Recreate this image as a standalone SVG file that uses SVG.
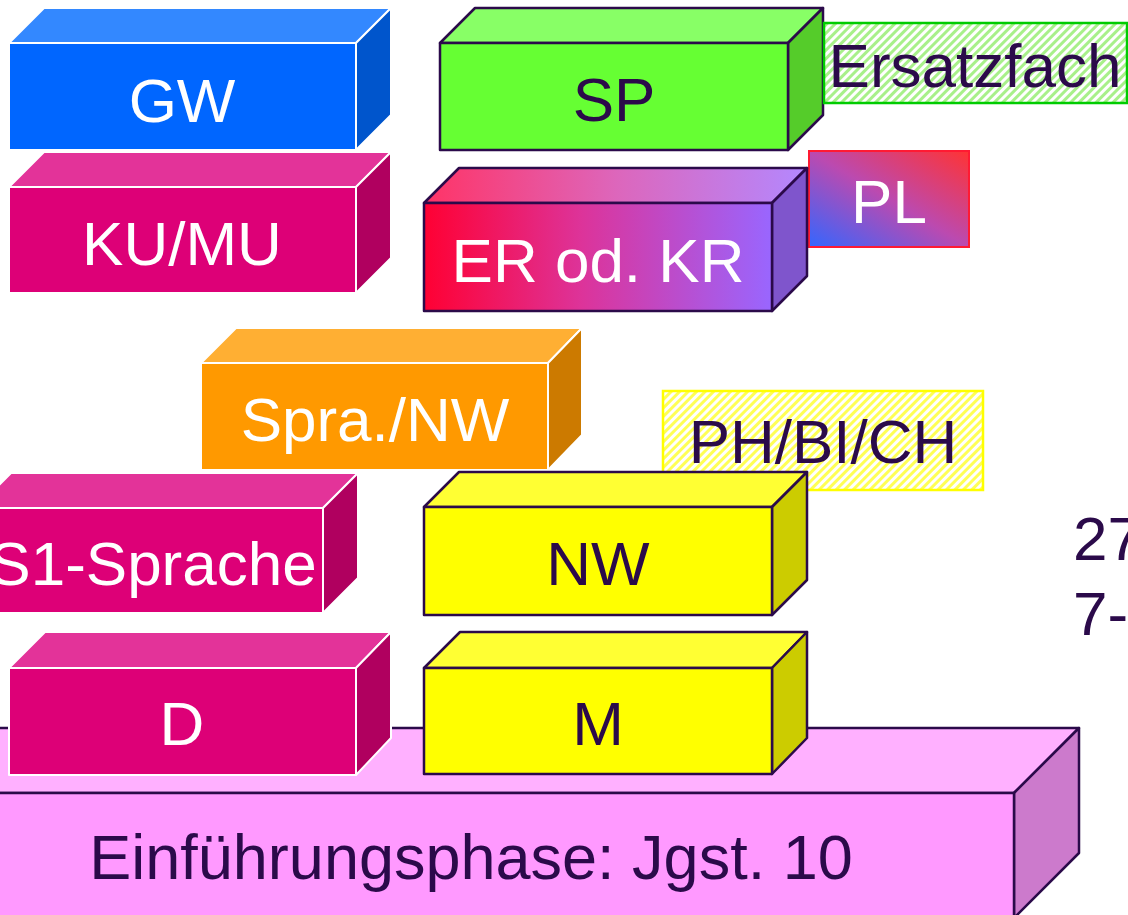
<svg xmlns="http://www.w3.org/2000/svg" width="1128" height="915" viewBox="0 0 1128 915">
<defs>
<style>
text{font-family:"Liberation Sans",Arial,sans-serif;font-size:62px;text-anchor:middle}
.w{fill:#ffffff}
.k{fill:#2b0a4a}
.ws{stroke:#ffffff;stroke-width:2;stroke-linejoin:round}
.ds{stroke:#2b0a4a;stroke-width:2.5;stroke-linejoin:round}
</style>
<linearGradient id="erF" x1="0" y1="0" x2="1" y2="0"><stop offset="0" stop-color="#ff0033"/><stop offset="0.45" stop-color="#dd3399"/><stop offset="1" stop-color="#9966ff"/></linearGradient>
<linearGradient id="erT" x1="0" y1="0" x2="1" y2="0"><stop offset="0" stop-color="#ff3366"/><stop offset="0.5" stop-color="#dd66bb"/><stop offset="1" stop-color="#b388ff"/></linearGradient>
<linearGradient id="pl" x1="0" y1="1" x2="1" y2="0"><stop offset="0" stop-color="#3366ff"/><stop offset="0.5" stop-color="#bb4ab0"/><stop offset="1" stop-color="#ff3333"/></linearGradient>
<pattern id="hg" patternUnits="userSpaceOnUse" width="6" height="6" patternTransform="rotate(45)"><rect width="6" height="6" fill="#ffffff"/><rect width="3" height="6" fill="#a8f08a"/></pattern>
<pattern id="hy" patternUnits="userSpaceOnUse" width="6" height="6" patternTransform="rotate(45)"><rect width="6" height="6" fill="#ffffff"/><rect width="3" height="6" fill="#ffff55"/></pattern>
</defs>

<g id="base">
<polygon class="ds" fill="#ffb0ff" points="-200,793 -135,728 1079,728 1014,793"/>
<polygon class="ds" fill="#cc7acc" points="1014,793 1079,728 1079,853 1014,918"/>
<rect class="ds" fill="#ff99ff" x="-200" y="793" width="1214" height="130"/>
<text class="k" x="471" y="879" style="font-size:63px">Einführungsphase: Jgst. 10</text>
</g>

<g id="GW">
<polygon class="ws" fill="#3388ff" points="9,43 44,8 391,8 356,43"/>
<polygon class="ws" fill="#0055cc" points="356,43 391,8 391,115 356,150"/>
<rect class="ws" fill="#0066ff" x="9" y="43" width="347" height="107"/>
<text class="w" x="182" y="122">GW</text>
</g>

<g id="KUMU">
<polygon class="ws" fill="#e33399" points="9,187 44,152 391,152 356,187"/>
<polygon class="ws" fill="#b0005f" points="356,187 391,152 391,258 356,293"/>
<rect class="ws" fill="#dd0077" x="9" y="187" width="347" height="106"/>
<text class="w" x="182" y="265">KU/MU</text>
</g>

<g id="SP">
<polygon class="ds" fill="#88ff66" points="440,43 475,8 823,8 788,43"/>
<polygon class="ds" fill="#55cc2a" points="788,43 823,8 823,115 788,150"/>
<rect class="ds" fill="#66ff33" x="440" y="43" width="348" height="107"/>
<text class="k" x="614" y="121">SP</text>
</g>

<g id="Ersatzfach">
<rect x="824" y="23" width="303" height="80" fill="url(#hg)" stroke="#00cc00" stroke-width="2.5"/>
<text class="k" x="975" y="87">Ersatzfach</text>
</g>

<g id="PL">
<rect x="809" y="151" width="160" height="96" fill="url(#pl)" stroke="#ff1a33" stroke-width="2"/>
<text class="w" x="889" y="223">PL</text>
</g>

<g id="ER">
<polygon class="ds" fill="url(#erT)" points="424,203 459,168 807,168 772,203"/>
<polygon class="ds" fill="#7f55cc" points="772,203 807,168 807,276 772,311"/>
<rect class="ds" fill="url(#erF)" x="424" y="203" width="348" height="108"/>
<text class="w" x="598" y="282">ER od. KR</text>
</g>

<g id="SpraNW">
<polygon class="ws" fill="#ffaf33" points="201,363 236,328 582,328 548,363"/>
<polygon class="ws" fill="#cc7a00" points="548,363 582,328 582,435 548,470"/>
<rect class="ws" fill="#ff9900" x="201" y="363" width="347" height="107"/>
<text class="w" x="375" y="441">Spra./NW</text>
</g>

<g id="PHBICH">
<rect x="663" y="391" width="320" height="99" fill="url(#hy)" stroke="#ffff00" stroke-width="2.5"/>
<text class="k" x="823" y="463">PH/BI/CH</text>
</g>

<g id="S1">
<polygon class="ws" fill="#e33399" points="-24,508 11,473 358,473 323,508"/>
<polygon class="ws" fill="#b0005f" points="323,508 358,473 358,578 323,613"/>
<rect class="ws" fill="#dd0077" x="-24" y="508" width="347" height="105"/>
<text class="w" x="153" y="585">S1-Sprache</text>
</g>

<g id="NW">
<polygon class="ds" fill="#ffff33" points="424,507 459,472 807,472 772,507"/>
<polygon class="ds" fill="#cccc00" points="772,507 807,472 807,580 772,615"/>
<rect class="ds" fill="#ffff00" x="424" y="507" width="348" height="108"/>
<text class="k" x="598" y="585">NW</text>
</g>

<g id="D">
<polygon class="ws" fill="#e33399" points="9,668 45,632 391,632 356,668"/>
<polygon class="ws" fill="#b0005f" points="356,668 391,632 391,738 356,775"/>
<rect class="ws" fill="#dd0077" x="9" y="668" width="347" height="107"/>
<text class="w" x="182" y="745">D</text>
</g>

<g id="M">
<polygon class="ds" fill="#ffff33" points="424,668 460,632 807,632 772,668"/>
<polygon class="ds" fill="#cccc00" points="772,668 807,632 807,738 772,774"/>
<rect class="ds" fill="#ffff00" x="424" y="668" width="348" height="106"/>
<text class="k" x="598" y="745">M</text>
</g>

<g id="side">
<text class="k" x="1073" y="560" style="text-anchor:start">27</text>
<text class="k" x="1073" y="635" style="text-anchor:start">7-</text>
</g>

<g id="connectors"></g>
</svg>
